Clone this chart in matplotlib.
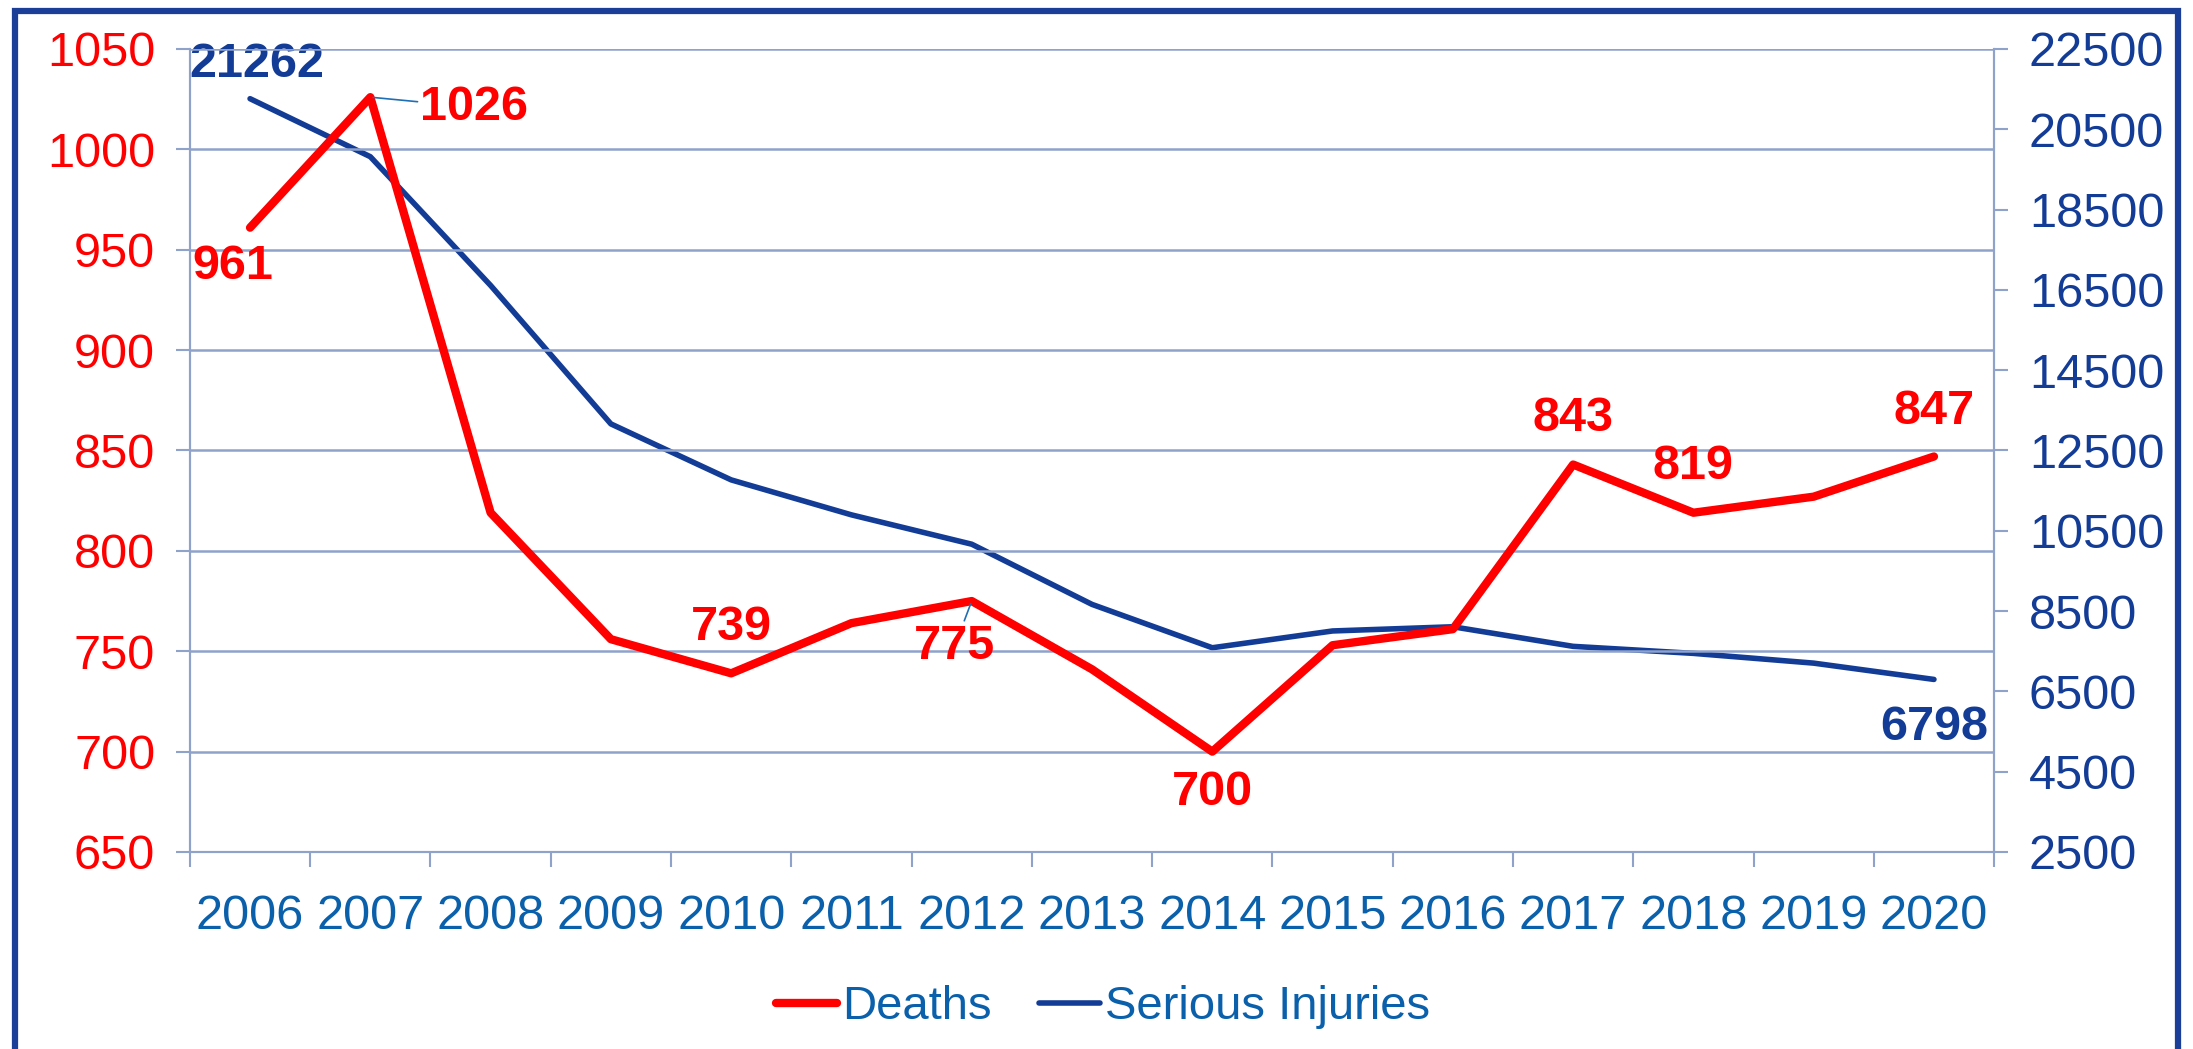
import matplotlib.pyplot as plt
from matplotlib.patches import Rectangle

plt.rcParams['font.family'] = ['Liberation Sans', 'DejaVu Sans']

# data
years = ['2006', '2007', '2008', '2009', '2010', '2011', '2012', '2013',
         '2014', '2015', '2016', '2017', '2018', '2019', '2020']
deaths = [961, 1026, 819, 756, 739, 764, 775, 741, 700, 753, 761, 843, 819, 827, 847]
injuries = [21262, 19817, 16611, 13162, 11768, 10897, 10166, 8667, 7587,
            8005, 8110, 7622, 7447, 7204, 6798]

# which points carry a label, and where the label sits (offset in pixels)
death_labels = {0: (-17, -39), 1: (50, -10), 4: (0, 46), 6: (-17, -45),
                8: (0, -41), 11: (0, 46), 12: (0, 46), 14: (0, 45)}
injury_labels = {0: (7, 34), 14: (0, -48)}

red = '#FF0000'
navy = '#133C96'
tick_blue = '#0A60AA'
grid_c = '#8EA2CA'

fig = plt.figure(figsize=(21.93, 10.49), dpi=100)
ax = fig.add_axes([0.0866, 0.1878, 0.8227, 0.7655])
ax2 = ax.twinx()

x = list(range(len(years)))
l1, = ax.plot(x, deaths, color=red, lw=6, zorder=3, solid_capstyle='round')
l2, = ax2.plot(x, injuries, color=navy, lw=4, zorder=2, solid_capstyle='round')
ax.set_zorder(ax2.get_zorder() + 1)
ax.patch.set_visible(False)

ax.set_xlim(-0.5, len(years) - 0.5)
ax.set_ylim(650, 1050)
ax.set_yticks(range(650, 1051, 50))
ax2.set_ylim(2500, 22500)
ax2.set_yticks(range(2500, 22501, 2000))

ax.grid(axis='y', color=grid_c, lw=1.8)
ax.set_axisbelow(True)

ax.set_xticks(x)
ax.set_xticklabels(years)
ax.set_xticks([i - 0.5 for i in range(len(years) + 1)], minor=True)
ax.tick_params(axis='x', which='major', length=0, pad=30, labelsize=35, labelcolor=tick_blue)
ax.tick_params(axis='x', which='minor', length=11, width=1.5, color=grid_c)
ax.tick_params(axis='y', length=10, width=1.5, color=grid_c, pad=15, labelsize=35, labelcolor=red)
ax2.tick_params(axis='y', length=10, width=1.5, color=grid_c, pad=15, labelsize=35, labelcolor=navy)

for a in (ax, ax2):
    a.spines['top'].set_visible(False)
    for s in ('left', 'right', 'bottom'):
        a.spines[s].set_color(grid_c)
        a.spines[s].set_linewidth(1.5)

for i, off in death_labels.items():
    arrow = None
    if i in (1, 6):
        arrow = dict(arrowstyle='-', color='#1F6FB5', lw=1.2, shrinkA=0, shrinkB=2)
    ha = 'left' if i == 1 else 'center'
    ax.annotate(str(deaths[i]), (x[i], deaths[i]), xytext=off, textcoords='offset pixels',
                ha=ha, va='center', fontsize=35, fontweight='bold', color=red,
                arrowprops=arrow, zorder=5)

for i, off in injury_labels.items():
    ax2.annotate(str(injuries[i]), (x[i], injuries[i]), xytext=off, textcoords='offset pixels',
                 ha='center', va='center', fontsize=35, fontweight='bold', color=navy)

leg = fig.legend([l1, l2], ['Deaths', 'Serious Injuries'], loc='center',
                 bbox_to_anchor=(0.503, 0.04), ncol=2, frameon=False, fontsize=34,
                 handlelength=1.3, handletextpad=0.1, columnspacing=1.0)
for t in leg.get_texts():
    t.set_color(tick_blue)

# outer border of the chart
fig.patches.append(Rectangle((15 / 2193, -0.05), 2163 / 2193, 1.05 - 11 / 1049,
                             transform=fig.transFigure, fill=False,
                             edgecolor='#1B3F99', lw=4.5))

fig.savefig('out.png', dpi=100)
